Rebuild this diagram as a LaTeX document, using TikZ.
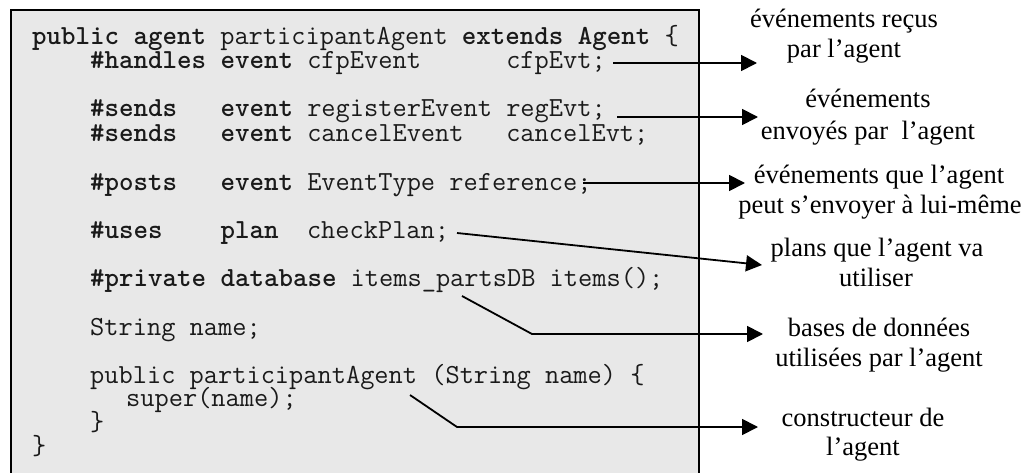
\documentclass[tikz,border=0pt]{standalone}
\usepackage{fontspec}
\setmainfont{Liberation Serif}
\usetikzlibrary{arrows.meta}
\definecolor{boxgray}{HTML}{E8E8E8}
\definecolor{codeink}{HTML}{1A1A1A}
\tikzset{
  code/.style={anchor=base west, inner sep=0pt, font=\fontsize{27.6}{24.2}\selectfont\ttfamily, text=codeink},
  lbl/.style={anchor=base, inner sep=0pt, font=\fontsize{26.5}{30}\selectfont, text=black},
  conn/.style={line width=1.8pt, -{Triangle[length=16pt,width=16pt]}},
  frame/.style={line width=2pt},
}
\begin{document}
\begin{tikzpicture}[x=1pt,y=-1pt]
\useasboundingbox (0,0) rectangle (1032,473);
% code box
\fill[boxgray] (11,10) rectangle (699,473);
\draw[frame] (11,473) -- (11,10) -- (699,10) -- (699,473);

% code lines
\node[code] (l0)  at (32,45)  {\textbf{public~agent}~participantAgent~\textbf{extends~Agent}~\{};
\node[code] (l1)  at (90,69)  {\textbf{\#handles~event}~cfpEvent~~~~~~cfpEvt;};
\node[code] (l3)  at (90,117) {\textbf{\#sends~~~event}~registerEvent~regEvt;};
\node[code] (l4)  at (90,142) {\textbf{\#sends~~~event}~cancelEvent~~~cancelEvt;};
\node[code] (l6)  at (90,190) {\textbf{\#posts~~~event}~EventType~reference;};
\node[code] (l8)  at (90,238) {\textbf{\#uses~~~~plan}~~checkPlan;};
\node[code] (l10) at (90,286) {\textbf{\#private~database}~items\_partsDB~items();};
\node[code] (l12) at (90,335) {String~name;};
\node[code] (l14) at (90,383) {public~participantAgent~(String~name)~\{};
\node[code] (l15) at (126,406) {super(name);};
\node[code] (l16) at (90,430) {\}};
\node[code] (l17) at (32,454) {\}};

% labels
\node[lbl] (a1) at (844,28)  {événements reçus};
\node[lbl] (a2) at (844,58)  {par l’agent};
\node[lbl] (b1) at (868,108) {événements};
\node[lbl] (b2) at (868,140) {envoyés par~ l’agent};
\node[lbl] (c1) at (879,183) {événements que l’agent};
\node[lbl] (c2) at (880,213) {peut s’envoyer à lui-même};
\node[lbl] (d1) at (877,256) {plans que l’agent va};
\node[lbl] (d2) at (876,286) {utiliser};
\node[lbl] (e1) at (879,336) {bases de données};
\node[lbl] (e2) at (879,366) {utilisées par l’agent};
\node[lbl] (f1) at (863,426) {constructeur de};
\node[lbl] (f2) at (863,455) {l’agent};

% connector end points
\coordinate (s1) at (613,63);  \coordinate (t1) at (757,63);
\coordinate (s2) at (617,117); \coordinate (t2) at (758,117);
\coordinate (s3) at (583,183); \coordinate (t3) at (745,183);
\coordinate (s4) at (457,233); \coordinate (t4) at (762,265);
\coordinate (s5) at (462,296); \coordinate (k5) at (532,334); \coordinate (t5) at (763,334);
\coordinate (s6) at (410,395); \coordinate (k6) at (457,427); \coordinate (t6) at (758,427);

\draw[conn] (s1) -- (t1);
\draw[conn] (s2) -- (t2);
\draw[conn] (s3) -- (t3);
\draw[conn] (s4) -- (t4);
\draw[conn] (s5) -- (k5) -- (t5);
\draw[conn] (s6) -- (k6) -- (t6);
\end{tikzpicture}
\end{document}
